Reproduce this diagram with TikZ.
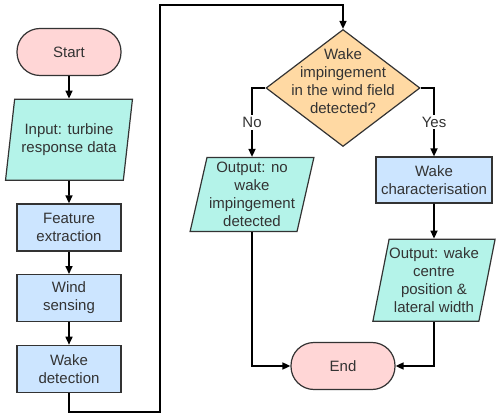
\documentclass[tikz,border=0pt]{standalone}
\usepackage{fontspec}
\setmainfont{Liberation Sans}
\usetikzlibrary{positioning, arrows.meta, shapes.geometric}
\definecolor{lineColor}{RGB}{51, 51, 51}
\definecolor{textColor}{RGB}{51, 51, 51}
\definecolor{termFill}{RGB}{255, 214, 214}
\definecolor{ioFill}{RGB}{180, 243, 233}
\definecolor{procFill}{RGB}{204, 229, 255}
\definecolor{decFill}{RGB}{255, 217, 163}
\tikzset{
    flow_base/.style={
        draw=lineColor,
        line width=1.2pt,
        text=textColor,
        font=\fontsize{15}{18}\selectfont,
        align=center,
        inner sep=0pt
    },
    flow_term/.style={
        flow_base,
        fill=termFill,
        rectangle,
        rounded corners=23pt,
        minimum width=104pt,
        minimum height=47pt
    },
    flow_io/.style={
        flow_base,
        fill=ioFill,
        trapezium,
        trapezium left angle=76,
        trapezium right angle=104,
        trapezium stretches=true
    },
    flow_proc/.style={
        flow_base,
        fill=procFill,
        rectangle,
        minimum width=104pt,
        minimum height=47pt
    },
    flow_dec/.style={
        flow_base,
        fill=decFill,
        diamond,
        minimum width=154pt,
        minimum height=117pt
    },
    flow_edge/.style={
        -{Triangle[length=8pt, width=7pt]},
        line width=1.6pt,
        draw=black
    },
    flow_label/.style={
        fill=white,
        text=textColor,
        font=\fontsize{15}{18}\selectfont,
        inner sep=2pt
    }
}

\begin{document}
\begin{tikzpicture}[x=1pt, y=-1pt, node distance=22.5pt]
    \useasboundingbox (0,0) rectangle (500,419);

    % left column
    \node[flow_term] (start) at (69,52) {Start};
    \node[flow_io, minimum width=127pt, minimum height=81pt, below=of start] (inp) {Input: turbine\\response data};
    \node[flow_proc, below=of inp] (feat) {Feature\\extraction};
    \node[flow_proc, below=of feat] (sense) {Wind\\sensing};
    \node[flow_proc, below=of sense] (detect) {Wake\\detection};

    % right part
    \node[flow_dec] (dec) at (343,88) {\raisebox{2pt}{\makebox[0pt]{\smash{\begin{tabular}{@{}c@{}}Wake\\impingement\\in the wind field\\detected?\end{tabular}}}}};
    \node[flow_io, minimum width=124pt, minimum height=74pt] (outno) at (252,194.5) {Output: no\\wake\\impingement\\detected};
    \node[flow_proc, minimum width=116pt, minimum height=46pt] (charac) at (434,180) {Wake\\characterisation};
    \node[flow_io, minimum width=121pt, minimum height=82pt, below=35pt of charac] (outwake) {Output: wake\\centre\\position \&\\lateral width};
    \node[flow_term] (fin) at (343,366) {End};

    \coordinate (loopLow) at (160,412);
    \coordinate (loopHigh) at (160,5);

    \draw[flow_edge] (start) -- (inp);
    \draw[flow_edge] (inp) -- (feat);
    \draw[flow_edge] (feat) -- (sense);
    \draw[flow_edge] (sense) -- (detect);
    \draw[flow_edge] (detect.south) |- (loopLow) -- (loopHigh) -| (dec.north);
    \draw[flow_edge] (dec.west) -| node[flow_label, pos=0.75] {No} (outno.north);
    \draw[flow_edge] (dec.east) -| node[flow_label, pos=0.75] {Yes} (charac.north);
    \draw[flow_edge] (charac) -- (outwake);
    \draw[flow_edge] (outno.south) |- (fin.west);
    \draw[flow_edge] (outwake.south) |- (fin.east);
\end{tikzpicture}
\end{document}
